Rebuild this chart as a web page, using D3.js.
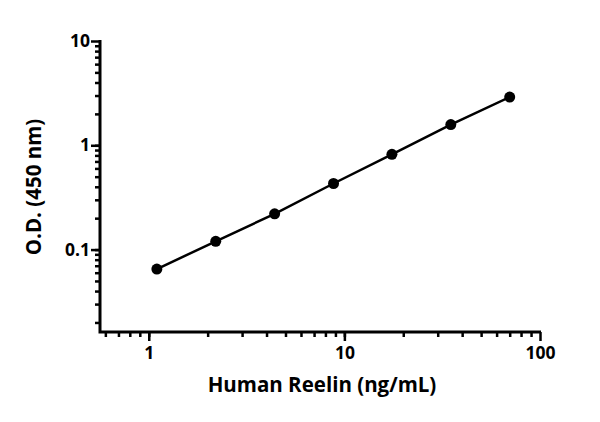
<!DOCTYPE html><html><head><meta charset="utf-8">
<script src="https://cdn.jsdelivr.net/npm/d3@7"></script>
<style>body{margin:0;background:#fff}text{font-family:"Open Sans",sans-serif;font-weight:700}</style></head><body>
<svg id="c" width="600" height="422"></svg>
<script>
const xValues=[1.1,2.2,4.4,8.8,17.5,35,70];
const yValues=[0.065,0.12,0.22,0.43,0.82,1.58,2.9];
const xTickLabels=[1,10,100];
const yTickLabels=[0.1,1,10];
const svg=d3.select("#c");
const x=d3.scaleLog().domain([0.57,100]).range([101,540]);
const y=d3.scaleLog().domain([0.0162,10]).range([332,41]);
const g=svg.append("g");
const xMinor=[];for(let d=0.1;d<100;d*=10)for(let k=1;k<10;k++){const v=d*k;if(v>=0.6&&v<=100)xMinor.push(v);}
const yMinor=[];for(let d=0.01;d<10;d*=10)for(let k=1;k<10;k++){const v=d*k;if(v>=0.02&&v<=10)yMinor.push(v);}
g.append("g").attr("transform","translate(0,332)").call(d3.axisBottom(x).tickValues(xMinor).tickSize(5).tickFormat("")).call(a=>a.select(".domain").remove());
g.append("g").attr("transform","translate(100,0)").call(d3.axisLeft(y).tickValues(yMinor).tickSize(5).tickFormat("")).call(a=>a.select(".domain").remove());
g.append("g").attr("transform","translate(0,332)").call(d3.axisBottom(x).tickValues(xTickLabels).tickSize(9).tickPadding(6).tickFormat(d3.format("~g"))).call(a=>a.select(".domain").remove());
g.append("g").attr("transform","translate(100,0)").call(d3.axisLeft(y).tickValues(yTickLabels).tickSize(9).tickPadding(1).tickFormat(d3.format("~g"))).call(a=>a.select(".domain").remove());
g.selectAll(".tick line").attr("stroke","#000").attr("stroke-width",2.5);
g.selectAll(".tick text").attr("font-size",17.5).attr("fill","#000");
svg.append("path").attr("d","M100,40V332H541").attr("fill","none").attr("stroke","#000").attr("stroke-width",3);
const pts=xValues.map((v,i)=>[v,yValues[i]]);
svg.append("path").attr("d",d3.line().x(d=>x(d[0])).y(d=>y(d[1]))(pts)).attr("fill","none").attr("stroke","#000").attr("stroke-width",2.5);
svg.selectAll("circle").data(pts).join("circle").attr("cx",d=>x(d[0])).attr("cy",d=>y(d[1])).attr("r",5.5).attr("fill","#000");
svg.append("text").attr("x",322).attr("y",392).attr("text-anchor","middle").attr("font-size",20.5).text("Human Reelin (ng/mL)");
svg.append("text").attr("transform","translate(41,187) rotate(-90)").attr("text-anchor","middle").attr("font-size",20.5).text("O.D. (450 nm)");
</script></body></html>
